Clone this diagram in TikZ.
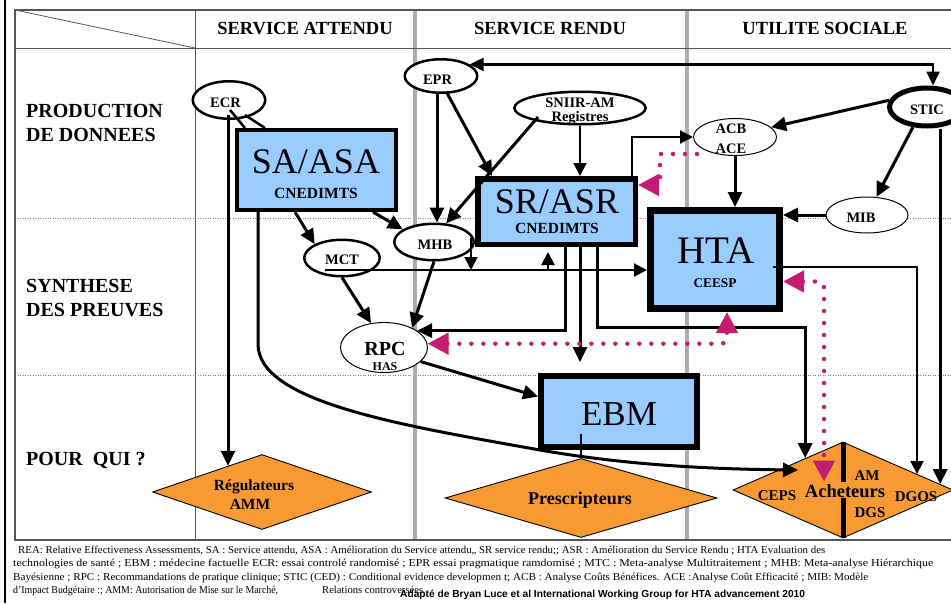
\documentclass[tikz,border=0pt]{standalone}
\usepackage{fontspec}
\setmainfont{Liberation Serif}
\newfontfamily\sansf{Liberation Sans}
\usetikzlibrary{shapes.geometric,arrows.meta,calc}
\definecolor{boxblue}{RGB}{153,204,255}
\definecolor{orng}{RGB}{248,154,52}
\definecolor{mag}{RGB}{196,28,112}
\definecolor{colgray}{RGB}{172,172,172}
\definecolor{tabline}{RGB}{85,85,85}
\newcommand\fsz[1]{\fontsize{#1}{#1}\selectfont}
\newsavebox\fitbox
\newcommand\fitw[2]{\sbox\fitbox{#2}\pgfmathsetmacro\fitfac{#1/\wd\fitbox}\scalebox{\fitfac}[1]{\usebox\fitbox}}
\tikzset{
  ell/.style={ellipse, draw, fill=white, inner sep=0pt},
  bbox/.style={rectangle, draw, fill=boxblue, inner sep=0pt},
  dmd/.style={diamond, draw, fill=orng, inner sep=0pt, line width=0.9pt},
  txt/.style={inner sep=0pt, anchor=base, font=\bfseries\fsz{14.5}},
  bigt/.style={inner sep=0pt, anchor=base, font=\fsz{36}},
  hdr/.style={inner sep=0pt, anchor=base, font=\bfseries\fsz{18.5}},
  rowl/.style={inner sep=0pt, anchor=base west, font=\bfseries\fsz{20}},
  foot/.style={inner sep=0pt, anchor=base west, font=\fsz{10.6}},
  arr/.style={line width=3pt, -{Triangle[length=15pt,width=14pt]}},
  arrm/.style={line width=2pt, -{Triangle[length=13pt,width=13pt]}},
  plainln/.style={line width=2.5pt},
  tipsboth/.style={line width=2.5pt, {Triangle[length=14pt,width=13pt]}-{Triangle[length=14pt,width=13pt]}},
  mdot/.style={draw=mag, line width=4.5pt, line cap=round, dash pattern=on 0pt off 12pt},
  mend/.style={-{Triangle[length=21pt,width=21pt]}},
  mboth/.style={{Triangle[length=21pt,width=21pt]}-{Triangle[length=21pt,width=21pt]}},
}
\begin{document}
\begin{tikzpicture}[x=1pt,y=-1pt]
\useasboundingbox (0,0) rectangle (951,603);
% ---- table ----
\draw[line width=2pt] (5,0) -- (5,603);
\draw[gray, line width=0.8pt, dash pattern=on 1pt off 1.5pt] (15,218) -- (951,218);
\draw[gray, line width=0.8pt, dash pattern=on 1pt off 1.5pt] (15,375) -- (951,375);
\draw[colgray, line width=4pt] (415,10) -- (415,540);
\draw[colgray, line width=4pt] (687,10) -- (687,540);
\draw[tabline, line width=1.2pt] (15,10) rectangle (960,540);
\draw[tabline, line width=1pt] (15,48) -- (960,48);
\draw[tabline, line width=1pt] (195,10) -- (195,540);
\draw[tabline, line width=0.8pt] (15,10) -- (195,48);
% ---- headers ----
\node[hdr] (h1) at (305,34) {SERVICE ATTENDU};
\node[hdr] (h2) at (550,34) {SERVICE RENDU};
\node[hdr] (h3) at (825,34) {UTILITE SOCIALE};
\node[rowl] (r1a) at (26,117) {PRODUCTION};
\node[rowl] (r1b) at (26,141) {DE DONNEES};
\node[rowl] (r2a) at (26,292) {SYNTHESE};
\node[rowl] (r2b) at (26,316) {DES PREUVES};
\node[rowl] (r3) at (26,465) {POUR\ \ QUI ?};
% ---- shapes ----
\node[bbox, line width=4pt, minimum width=159pt, minimum height=80pt] (SA) at (316.5,170) {};
\node[bbox, line width=5.5pt, minimum width=157.5pt, minimum height=65.5pt] (SR) at (556.5,211.5) {};
\node[bbox, line width=7pt, minimum width=129pt, minimum height=98pt] (HTA) at (715,259.5) {};
\node[bbox, line width=6pt, minimum width=156pt, minimum height=71pt] (EBM) at (619,411.5) {};
\node[ell, line width=2.5pt, minimum width=72.5pt, minimum height=37.5pt] (ECR) at (229,100) {};
\node[ell, line width=2.5pt, minimum width=72.5pt, minimum height=33.5pt] (EPR) at (441,76) {};
\node[ell, line width=2.5pt, minimum width=131.5pt, minimum height=32.5pt] (SNIIR) at (580,108) {};
\node[ell, line width=5pt, minimum width=75pt, minimum height=38pt] (STIC) at (927,107) {};
\node[ell, line width=1pt, minimum width=83pt, minimum height=37pt] (ACB) at (735,137) {};
\node[ell, line width=1pt, minimum width=82pt, minimum height=36pt] (MIB) at (867,215) {};
\node[ell, line width=2.5pt, minimum width=79.5pt, minimum height=36.5pt] (MHB) at (434,242) {};
\node[ell, line width=2.5pt, minimum width=75.5pt, minimum height=36.5pt] (MCT) at (342,258) {};
\node[ell, line width=1pt, minimum width=87pt, minimum height=50pt] (RPC) at (384,347.5) {};
\node[dmd, minimum width=219pt, minimum height=75pt] (Regul) at (262,492) {};
\node[dmd, minimum width=272pt, minimum height=79pt] (Presc) at (581,498) {};
\node[dmd, minimum width=220pt, minimum height=96pt] (Ach) at (843,490) {};
\draw[line width=5pt] (Ach.north) -- ++(0,40);
\draw[line width=5pt] (Ach.south) -- ++(0,-40);
% ---- coordinates ----
\coordinate (regtop) at ($(Regul.north)!0.31!(Regul.west)$);
\coordinate (ecrb) at ($(ECR.center)+(-1,15)$);
\coordinate (sa1) at ($(SA.south west)+(23,-3)$);
\coordinate (ceps) at (798,470);
\coordinate (cepsT) at ($(Ach.north)!0.342!(Ach.west)$);
\coordinate (dgosA) at ($(Ach.north)!0.67!(Ach.east)$);
\coordinate (dgosB) at ($(Ach.north)!0.88!(Ach.east)$);
\coordinate (eprb) at ($(EPR.center)+(-4,16)$);
\coordinate (srtr) at ($(SR.north east)+(-6,3)$);
\coordinate (sticT) at ($(STIC.north)+(6,0)$);
\coordinate (htar) at ($(HTA.east)+(-10,7.5)$);
\coordinate (mctl) at ($(MCT.center)+(-17,12)$);
\coordinate (mhbr) at ($(MHB.east)+(-4,-4)$);
\coordinate (sru) at ($(SR.south west)+(73,0)$);
\coordinate (srb1) at ($(SR.south west)+(90,-3)$);
\coordinate (srb2) at ($(SR.south west)+(105,-3)$);
\coordinate (srb3) at ($(SR.south west)+(122,-3)$);
\coordinate (acbm) at ($(ACB.center)+(-38,17)$);
\coordinate (srm) at ($(SR.north east)+(0,9)$);
\coordinate (htam) at ($(HTA.south west)+(80,0)$);
\coordinate (htae) at ($(HTA.east)+(0,22)$);
\coordinate (achm) at ($(Ach.north)+(-19,40)$);
% ---- black connectors ----
\draw[plainln] ($(ECR.center)+(1,10)$) -- ($(SA.north west)+(10,0)$);
\draw[plainln] ($(ECR.center)+(16,15)$) -- ($(SA.north west)+(30,0)$);
\draw[arr] (ecrb) -- (ecrb |- regtop);
\draw[arr] (sa1) -- ++(0,135) .. controls +(0,58) and (400,425) .. (540,450) .. controls (620,464) and (700,469) .. (ceps);
\draw[arr] ($(SA.south west)+(60,0)$) -- (MCT.153);
\draw[arr] ($(SA.south west)+(138,0)$) -- (MHB.158);
\draw[arr] (eprb) -- (eprb |- MHB.north);
\draw[arr] ($(EPR.center)+(6,17)$) -- ($(SR.north west)+(17,0)$);
\draw[arr] ($(SNIIR.center)+(-42,9)$) -- (MHB.57);
\draw[arrm] (SNIIR.south) -- (SNIIR.south |- SR.north);
\draw[arrm] (srtr) |- (ACB);
\draw[tipsboth] (EPR.22) -| (sticT);
\draw[arr] (STIC.170) -- (ACB.15);
\draw[arr] (STIC.235) -- (MIB);
\draw[arr] (dgosB |- STIC.south) -- (dgosB);
\draw[arr] (ACB.south) -- (ACB.south |- HTA.north);
\draw[arr] (MIB.west) -- (MIB.west -| HTA.east);
\draw[arrm] (htar) -| (dgosA);
\draw[arrm] (mctl) -- (mctl -| HTA.west);
\draw[arrm] (mhbr) -- (mhbr |- mctl);
\draw[arrm, shorten >=5pt] (sru |- mctl) -- (sru);
\draw[arr] (srb1) |- (RPC.27);
\draw[arr, shorten >=11pt] (srb2) -- (srb2 |- EBM.north);
\draw[arr] (srb3) -- ++(0,83) -| (cepsT);
\draw[arr] (RPC.-21) -- ($(EBM.west)+(0,-15)$);
\draw[line width=2pt] ($(Presc.north)+(0,-24)$) -- (Presc.north);
\draw[arr] (MCT.south) -- (RPC.118);
\draw[arr] (MHB.south) -- (RPC.35);
% ---- magenta dotted ----
\draw[mdot, mend] (acbm) -| ($(srm)+(22,0)$) -- (srm);
\draw[mdot, mboth, rounded corners=6pt] (RPC.5) -| (htam);
\draw[mdot, mboth, rounded corners=6pt] (htae) -| (achm);
% ---- texts ----
\node[txt] (tECR) at (225.5,107) {ECR};
\node[txt] (tEPR) at (437.5,84) {EPR};
\node[txt] (tSN1) at (580,107) {SNIIR-AM};
\node[txt] (tSN2) at (580,121) {Registres};
\node[txt] (tSTIC) at (927,114) {STIC};
\node[txt] (tACB) at (731,133) {ACB};
\node[txt] (tACE) at (731,153) {ACE};
\node[txt] (tMIB) at (861,222) {MIB};
\node[txt] (tMHB) at (435,249) {MHB};
\node[txt] (tMCT) at (342,264) {MCT};
\node[txt, font=\bfseries\fsz{20}] (tRPC) at (385,355) {RPC};
\node[txt, font=\bfseries\fsz{12}] (tHAS) at (385,370) {HAS};
\node[bigt] (tSA) at (316,173) {SA/ASA};
\node[txt, font=\bfseries\fsz{15.5}] (tSAc) at (316,198) {CNEDIMTS};
\node[bigt] (tSR) at (557,213) {SR/ASR};
\node[txt, font=\bfseries\fsz{15.5}] (tSRc) at (557,233) {CNEDIMTS};
\node[bigt, font=\fsz{39}] (tHTA) at (716,263) {HTA};
\node[txt, font=\bfseries\fsz{13.3}] (tCEESP) at (715,287) {CEESP};
\node[bigt, font=\fsz{35}] (tEBM) at (619,425) {EBM};
\node[txt, font=\bfseries\fsz{15.5}] (tReg) at (254,490) {Régulateurs};
\node[txt, font=\bfseries\fsz{15.5}] (tAMM) at (250,509) {AMM};
\node[txt, font=\bfseries\fsz{18}] (tPres) at (580,504) {Prescripteurs};
\node[txt, font=\bfseries\fsz{18.5}] (tAch) at (845,497) {Acheteurs};
\node[txt, font=\bfseries\fsz{15}] (tAM) at (867,480) {AM};
\node[txt, font=\bfseries\fsz{15}] (tDGS) at (870,517) {DGS};
\node[txt, font=\bfseries\fsz{15}] (tCEPS) at (777,500) {CEPS};
\node[txt, font=\bfseries\fsz{15}] (tDGOS) at (916,501) {DGOS};
% ---- footnote ----
\node[foot] (f1) at (18,553) {\fitw{807}{REA: Relative Effectiveness Assessments, SA : Service attendu, ASA : Amélioration du Service attendu,, SR service rendu;; ASR : Amélioration du Service Rendu ; HTA Evaluation des}};
\node[foot] (f2) at (13,566.5) {\fitw{920}{technologies de santé ; EBM : médecine factuelle ECR: essai controlé randomisé ; EPR essai pragmatique ramdomisé ; MTC : Meta-analyse Multitraitement ; MHB: Meta-analyse Hiérarchique}};
\node[foot] (f3) at (13,580) {\fitw{855}{Bayésienne ; RPC : Recommandations de pratique clinique; STIC (CED) : Conditional evidence developmen t; ACB : Analyse Coûts Bénéfices. ACE :Analyse Coût Efficacité ; MIB: Modèle}};
\node[foot] (f4) at (13,593) {\fitw{265}{d'Impact Budgétaire :; AMM: Autorisation de Mise sur le Marché,}};
\node[foot] (f5) at (322,593) {Relations controversées};
\node[foot, font=\sansf\bfseries\fsz{10.2}] (f6) at (400,597) {Adapté de Bryan Luce et al International Working Group for HTA advancement 2010};
\end{tikzpicture}
\end{document}
